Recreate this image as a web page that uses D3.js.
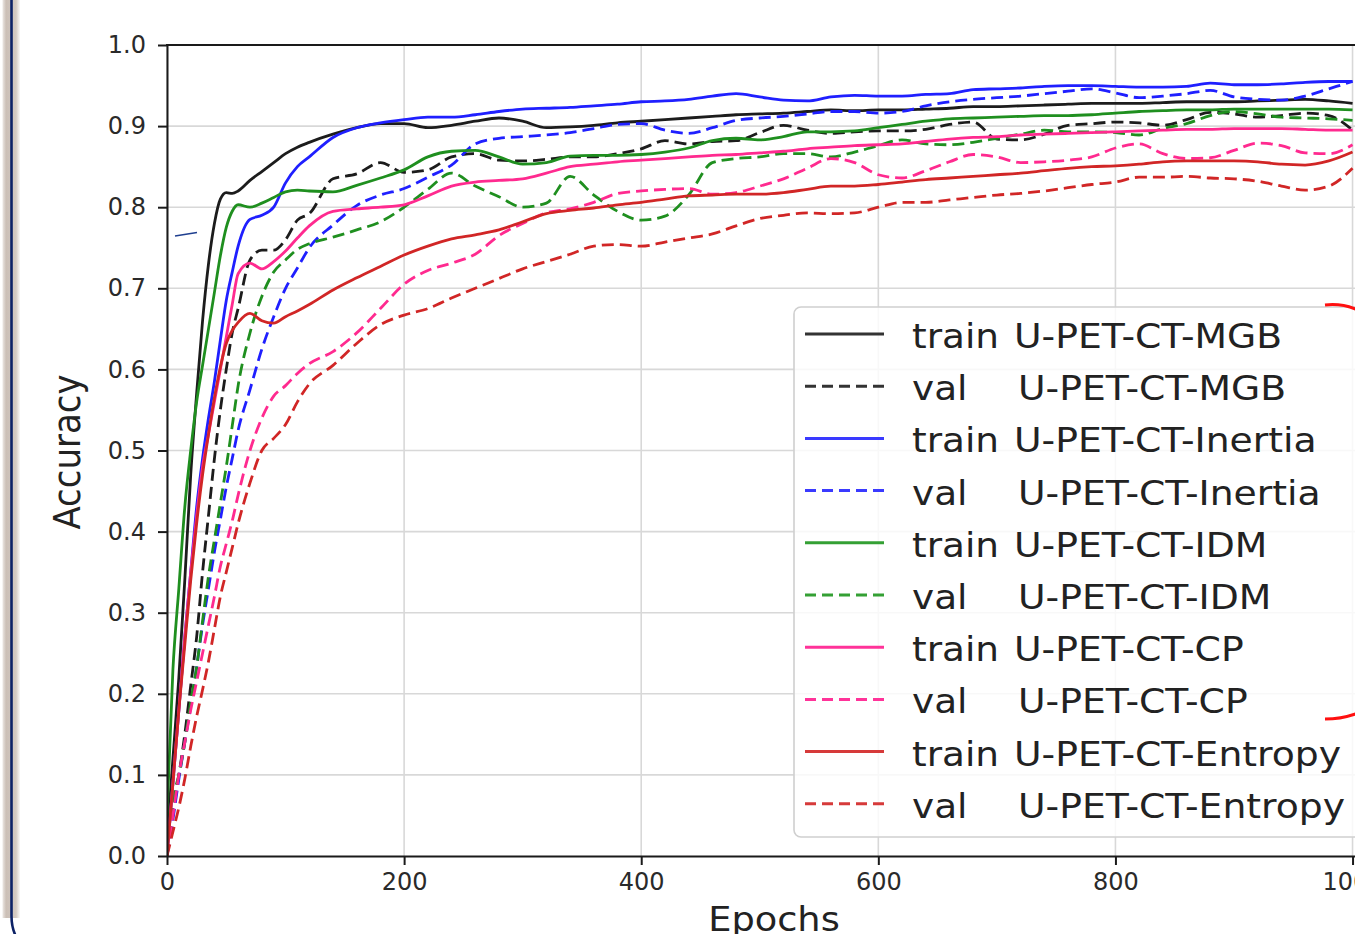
<!DOCTYPE html>
<html><head><meta charset="utf-8">
<script src="https://cdn.jsdelivr.net/npm/d3@7"></script>
<style>html,body{margin:0;padding:0;background:#fff;overflow:hidden}svg{display:block}text{font-family:"DejaVu Sans",sans-serif}</style>
</head><body><svg id="chart" width="1355" height="934"></svg>
<script>
const epochs = [0,5,10,15,20,25,30,35,40,45,50,55,60,70,80,90,100,110,120,140,160,180,200,
  220,240,260,280,300,320,340,360,380,400,420,440,460,480,500,520,540,560,580,600,620,640,660,680,700,720,740,760,780,800,820,840,860,880,900,920,940,960,980,1000];

const trainMGB = [0.02,0.12,0.22,0.34,0.47,0.57,0.66,0.73,0.78,0.81,0.818,0.817,0.82,0.833,0.844,0.855,0.866,0.874,0.880,0.890,0.898,0.903,0.903,
  0.898,0.901,0.906,0.910,0.906,0.898,0.899,0.901,0.904,0.906,0.908,0.910,0.912,0.914,0.915,0.916,0.918,0.920,0.919,0.920,0.920,0.921,0.922,0.924,0.924,0.925,0.926,0.927,0.928,0.928,0.928,0.929,0.930,0.930,0.930,0.931,0.932,0.933,0.931,0.928];
const valMGB = [0.0,0.06,0.10,0.15,0.21,0.27,0.35,0.42,0.49,0.55,0.60,0.645,0.675,0.735,0.747,0.747,0.76,0.784,0.792,0.835,0.841,0.855,0.843,
  0.846,0.862,0.866,0.858,0.857,0.859,0.862,0.862,0.866,0.872,0.882,0.878,0.881,0.882,0.892,0.901,0.895,0.891,0.893,0.894,0.894,0.896,0.902,0.905,0.884,0.883,0.890,0.901,0.903,0.905,0.904,0.901,0.908,0.917,0.915,0.911,0.913,0.916,0.913,0.895];
const trainInertia = [0.0,0.09,0.18,0.27,0.35,0.43,0.49,0.54,0.585,0.636,0.685,0.72,0.752,0.785,0.790,0.800,0.830,0.850,0.862,0.886,0.898,0.904,0.908,
  0.911,0.911,0.914,0.918,0.921,0.922,0.923,0.925,0.927,0.930,0.931,0.933,0.937,0.940,0.936,0.932,0.931,0.936,0.938,0.937,0.937,0.939,0.940,0.945,0.946,0.947,0.949,0.950,0.950,0.949,0.948,0.948,0.949,0.953,0.951,0.951,0.952,0.954,0.955,0.955];
const valInertia = [0.0,0.045,0.095,0.14,0.185,0.233,0.285,0.33,0.375,0.415,0.455,0.49,0.525,0.575,0.625,0.665,0.70,0.725,0.75,0.778,0.802,0.815,0.823,
  0.837,0.852,0.878,0.885,0.887,0.889,0.892,0.897,0.902,0.903,0.895,0.891,0.898,0.907,0.910,0.912,0.915,0.918,0.918,0.916,0.918,0.925,0.930,0.933,0.935,0.937,0.940,0.943,0.946,0.941,0.935,0.937,0.940,0.944,0.936,0.933,0.932,0.937,0.946,0.955];
const trainIDM = [0.05,0.23,0.33,0.43,0.50,0.56,0.605,0.65,0.695,0.74,0.775,0.795,0.803,0.80,0.805,0.812,0.819,0.821,0.820,0.819,0.827,0.836,0.846,
  0.862,0.869,0.870,0.862,0.853,0.855,0.863,0.864,0.864,0.865,0.868,0.873,0.882,0.885,0.883,0.887,0.893,0.893,0.894,0.898,0.902,0.906,0.909,0.910,0.911,0.912,0.913,0.913,0.914,0.916,0.918,0.919,0.920,0.920,0.921,0.921,0.921,0.921,0.921,0.920];
const valIDM = [0.0,0.069,0.10,0.14,0.19,0.233,0.29,0.345,0.39,0.435,0.48,0.53,0.58,0.645,0.69,0.72,0.735,0.748,0.755,0.763,0.772,0.782,0.80,
  0.822,0.842,0.826,0.813,0.80,0.805,0.838,0.815,0.795,0.784,0.789,0.815,0.855,0.860,0.862,0.866,0.866,0.862,0.868,0.876,0.883,0.878,0.877,0.880,0.885,0.890,0.895,0.893,0.893,0.892,0.889,0.897,0.903,0.913,0.918,0.915,0.911,0.910,0.909,0.907];
const trainCP = [0.0,0.09,0.18,0.27,0.35,0.42,0.48,0.52,0.56,0.60,0.64,0.68,0.718,0.731,0.724,0.733,0.746,0.762,0.777,0.795,0.798,0.800,0.803,
  0.814,0.826,0.831,0.833,0.835,0.842,0.850,0.853,0.856,0.858,0.860,0.862,0.864,0.865,0.867,0.869,0.872,0.874,0.876,0.877,0.878,0.881,0.884,0.886,0.887,0.889,0.890,0.891,0.892,0.893,0.894,0.895,0.896,0.896,0.897,0.897,0.897,0.896,0.895,0.895];
const valCP = [0.0,0.05,0.10,0.14,0.18,0.215,0.25,0.285,0.32,0.357,0.385,0.413,0.445,0.50,0.54,0.567,0.58,0.595,0.607,0.622,0.645,0.675,0.705,
  0.722,0.731,0.742,0.765,0.780,0.793,0.798,0.806,0.817,0.82,0.822,0.823,0.816,0.818,0.826,0.835,0.848,0.860,0.855,0.840,0.836,0.845,0.856,0.865,0.862,0.855,0.856,0.858,0.862,0.873,0.878,0.866,0.860,0.861,0.870,0.879,0.876,0.867,0.866,0.877];
const trainEntropy = [0.0,0.09,0.18,0.26,0.34,0.41,0.47,0.52,0.565,0.603,0.632,0.648,0.658,0.669,0.660,0.657,0.665,0.672,0.680,0.698,0.713,0.727,0.741,
  0.752,0.761,0.766,0.772,0.782,0.792,0.796,0.799,0.803,0.806,0.810,0.814,0.815,0.816,0.816,0.818,0.822,0.826,0.826,0.828,0.831,0.834,0.836,0.838,0.840,0.842,0.845,0.848,0.850,0.851,0.853,0.856,0.857,0.857,0.857,0.856,0.853,0.852,0.857,0.868];
const valEntropy = [0.0,0.03,0.06,0.095,0.135,0.172,0.205,0.24,0.28,0.32,0.35,0.38,0.41,0.46,0.50,0.515,0.532,0.56,0.582,0.605,0.632,0.655,0.667,
  0.675,0.688,0.700,0.712,0.724,0.733,0.742,0.752,0.754,0.752,0.757,0.762,0.767,0.777,0.786,0.790,0.793,0.792,0.793,0.800,0.806,0.806,0.809,0.812,0.815,0.817,0.820,0.824,0.828,0.831,0.837,0.837,0.838,0.836,0.835,0.832,0.826,0.821,0.826,0.848];

const modelNames = ["U-PET-CT-MGB","U-PET-CT-Inertia","U-PET-CT-IDM","U-PET-CT-CP","U-PET-CT-Entropy"];
const modelColors = ["#1c1c1c","#1f1fff","#1f8f1f","#ff2a8f","#d12626"];
const legendColors = ["#333333","#3a3aff","#34a034","#ff3399","#d63a3a"];
const trainSeries = [trainMGB,trainInertia,trainIDM,trainCP,trainEntropy];
const valSeries = [valMGB,valInertia,valIDM,valCP,valEntropy];
const xTicks = [0,200,400,600,800,1000];
const yTicks = [0.0,0.1,0.2,0.3,0.4,0.5,0.6,0.7,0.8,0.9,1.0];

const svg = d3.select("#chart");
const W = 1355, H = 934;
const x = d3.scaleLinear().domain([0,1024]).range([167,1381]);
const y = d3.scaleLinear().domain([0,1]).range([856,45]);

// left frame decoration
const defs = svg.append("defs");
const gr = defs.append("linearGradient").attr("id","shade").attr("x1","0").attr("x2","1");
gr.append("stop").attr("offset","0").attr("stop-color","#ece7e3");
gr.append("stop").attr("offset","0.2").attr("stop-color","#cbbfb6");
gr.append("stop").attr("offset","0.75").attr("stop-color","#d4cac2");
gr.append("stop").attr("offset","1").attr("stop-color","#ffffff");
defs.append("clipPath").attr("id","plotclip").append("rect")
  .attr("x",167).attr("y",40).attr("width",1381-167).attr("height",856-40+4);

svg.append("rect").attr("x",2.5).attr("y",0).attr("width",18).attr("height",918).attr("fill","url(#shade)");
svg.append("path").attr("d","M11.5,0 V916 Q11.5,930 18,940").attr("fill","none")
  .attr("stroke","#0d2266").attr("stroke-width",2.6);

// grid
const grid = svg.append("g");
grid.selectAll("line.v").data(xTicks).enter().append("line")
  .attr("x1",d=>x(d)).attr("x2",d=>x(d)).attr("y1",y(1)).attr("y2",y(0))
  .attr("stroke","#d8d8d8").attr("stroke-width",1.6);
grid.selectAll("line.h").data(yTicks.filter(d=>d>0&&d<1)).enter().append("line")
  .attr("x1",x(0)).attr("x2",W).attr("y1",d=>y(d)).attr("y2",d=>y(d))
  .attr("stroke","#d8d8d8").attr("stroke-width",1.6);

// lines
const plot = svg.append("g").attr("clip-path","url(#plotclip)");
const line = d3.line().x((d,i)=>x(epochs[i])).y(d=>y(d)).curve(d3.curveMonotoneX);
for (let k=0;k<5;k++){
  plot.append("path").datum(trainSeries[k]).attr("d",line).attr("fill","none")
    .attr("stroke",modelColors[k]).attr("stroke-width",2.8).attr("stroke-linejoin","round");
  plot.append("path").datum(valSeries[k]).attr("d",line).attr("fill","none")
    .attr("stroke",modelColors[k]).attr("stroke-width",2.8).attr("stroke-dasharray","12,6");
}

// axes
const yAxis = svg.append("g").attr("transform",`translate(${x(0)},0)`)
  .call(d3.axisLeft(y).tickValues(yTicks).tickFormat(d3.format(".1f")).tickSize(9).tickSizeOuter(0).tickPadding(12));
const xAxis = svg.append("g").attr("transform",`translate(0,${y(0)})`)
  .call(d3.axisBottom(x).tickValues(xTicks).tickFormat(d3.format("d")).tickSize(9).tickSizeOuter(0).tickPadding(8));
[yAxis,xAxis].forEach(a=>{
  a.select(".domain").attr("stroke","#1a1a1a").attr("stroke-width",2);
  a.selectAll(".tick line").attr("stroke","#1a1a1a").attr("stroke-width",2);
  a.selectAll(".tick text").attr("fill","#2a2a2a").style("font-size","24px").style("font-family","DejaVu Sans");
});
svg.append("line").attr("x1",x(0)-1).attr("x2",W).attr("y1",y(1)).attr("y2",y(1))
  .attr("stroke","#1a1a1a").attr("stroke-width",2);

// axis labels
svg.append("text").attr("transform","translate(80,452) scale(1.08,1) rotate(-90)")
  .attr("text-anchor","middle").attr("fill","#222").style("font-size","34px").text("Accuracy");
svg.append("text").attr("transform","translate(774,931) scale(1.08,1)")
  .attr("text-anchor","middle").attr("fill","#222").style("font-size","34px").text("Epochs");

// stray annotation mark
svg.append("line").attr("x1",175).attr("y1",236).attr("x2",197).attr("y2",232.5)
  .attr("stroke","#1f3f8f").attr("stroke-width",1.6);

// legend
const lg = svg.append("g");
lg.append("rect").attr("x",794).attr("y",307).attr("width",620).attr("height",530).attr("rx",7)
  .attr("fill","#ffffff").attr("fill-opacity",0.82).attr("stroke","#cfcfcf").attr("stroke-width",1.6);
const entries = [];
for (let k=0;k<5;k++){
  entries.push({kind:"train",name:modelNames[k],color:legendColors[k],dash:null});
  entries.push({kind:"val",name:modelNames[k],color:legendColors[k],dash:"11,6"});
}
entries.forEach((e,i)=>{
  const cy = 334 + i*52.2;
  lg.append("line").attr("x1",805).attr("x2",884).attr("y1",cy).attr("y2",cy)
    .attr("stroke",e.color).attr("stroke-width",3).attr("stroke-dasharray",e.dash);
  lg.append("text").attr("transform",`translate(912,${cy+14}) scale(1.1,1)`)
    .attr("fill","#222").style("font-size","34px").text(e.kind);
  lg.append("text").attr("transform",`translate(${e.kind==="train"?1014:1018},${cy+14}) scale(1.11,1)`)
    .attr("fill","#222").style("font-size","34px").text(e.name);
});

// red annotation arcs
svg.append("path").attr("d","M1325,305 Q1342,303 1358,310").attr("fill","none").attr("stroke","#ff1010").attr("stroke-width",3);
svg.append("path").attr("d","M1325,719 Q1342,719 1358,713").attr("fill","none").attr("stroke","#ff1010").attr("stroke-width",3);
</script></body></html>
